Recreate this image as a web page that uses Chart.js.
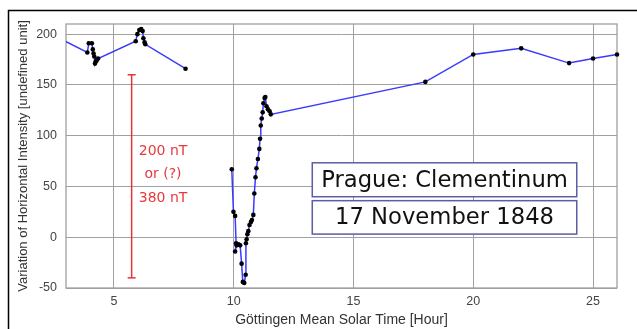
<!DOCTYPE html>
<html>
<head>
<meta charset="utf-8">
<script src="https://cdn.jsdelivr.net/npm/chart.js@4"></script>
<style>
  html, body { margin: 0; padding: 0; background: #fff; }
  #wrap { position: relative; width: 637px; height: 329px; }
</style>
</head>
<body>
<div id="wrap"><canvas id="chart" width="637" height="329"></canvas></div>
<script>
// Göttingen mean solar time [h] and variation of horizontal intensity
const hours = [
  2.8, 3.89, 3.95, 4.08, 4.12, 4.15, 4.18, 4.21, 4.24, 4.28, 4.34,
  5.91, 5.98, 6.06, 6.14, 6.2, 6.23, 6.28, 6.31, 7.99,
  9.0,
  9.92, 9.99, 10.06, 10.1, 10.06, 10.12, 10.2, 10.27, 10.33, 10.38, 10.44,
  10.5, 10.51, 10.54, 10.57, 10.61, 10.66, 10.72, 10.76, 10.82, 10.86,
  10.91, 10.95, 11.01, 11.07, 11.1, 11.13, 11.17, 11.21, 11.24, 11.29,
  11.32, 11.37, 11.43, 11.5, 11.55,
  18, 20, 22, 24, 25, 26
];
const intensity = [
  195, 182, 191, 191, 185, 181, 178, 171, 173, 174, 176,
  193, 200, 204, 205, 203, 196, 192, 190, 166,
  null,
  67, 25, 21, -6, -14, -8, -7, -8, -26, -44, -45,
  -37, -6, -2, 3, 6, 12, 15, 17, 22, 43,
  59, 68, 77, 87, 97, 110, 117, 123, 132, 137,
  138, 129, 126, 124, 121,
  153, 180, 186, 171.5, 176, 180
];

// scale bar (200 nT or 380 nT)
const barHours = [5.74, 5.74];
const barValues = [-40, 160];

const xTicks = [5, 10, 15, 20, 25];
const yTicks = [-50, 0, 50, 100, 150, 200];

const noteLines = ["200 nT", "or (?)", "380 nT"];
const titleLines = ["Prague: Clementinum", "17 November 1848"];

const tickFont = { family: "'Liberation Sans', Arial, sans-serif", size: 12.5 };
const xTitleFont = { family: "'Liberation Sans', Arial, sans-serif", size: 14 };
const yTitleFont = { family: "'Liberation Sans', Arial, sans-serif", size: 13 };

const framePlugin = {
  id: "frame",
  beforeDraw(chart) {
    const c = chart.ctx;
    c.save();
    c.strokeStyle = "#000";
    c.lineWidth = 1.5;
    c.beginPath();
    c.moveTo(8.5, 329);
    c.lineTo(8.5, 10.5);
    c.lineTo(637, 10.5);
    c.stroke();
    c.restore();
  },
  beforeDatasetsDraw(chart) {
    const a = chart.chartArea;
    const c = chart.ctx;
    c.save();
    c.strokeStyle = "#a0a0a0";
    c.lineWidth = 1.3;
    c.strokeRect(a.left, a.top, a.right - a.left, a.bottom - a.top);
    c.restore();
  }
};

const notesPlugin = {
  id: "notes",
  afterDatasetsDraw(chart) {
    const c = chart.ctx;
    const x = chart.scales.x, y = chart.scales.y;
    c.save();

    // red label next to the scale bar
    c.fillStyle = "#e8383c";
    c.font = "14px 'DejaVu Sans'";
    c.textAlign = "center";
    c.textBaseline = "middle";
    const nx = x.getPixelForValue(7.05);
    [85, 62, 38.6].forEach((v, i) => c.fillText(noteLines[i], nx, y.getPixelForValue(v)));

    // station / date boxes
    const left = x.getPixelForValue(13.28), right = x.getPixelForValue(24.32);
    const boxes = [[73.3, 39.9], [36, 3.1]];
    c.font = "22.7px 'DejaVu Sans'";
    boxes.forEach(([top, bot], i) => {
      const t = y.getPixelForValue(top), b = y.getPixelForValue(bot);
      c.fillStyle = "#fff";
      c.fillRect(left, t, right - left, b - t);
      c.strokeStyle = "#5c5ca8";
      c.lineWidth = 1.5;
      c.strokeRect(left, t, right - left, b - t);
      c.fillStyle = "#111";
      c.fillText(titleLines[i], (left + right) / 2, (t + b) / 2 + 1);
    });
    c.restore();
  }
};

new Chart(document.getElementById("chart"), {
  type: "line",
  data: {
    datasets: [
      {
        data: hours.map((h, i) => ({ x: h, y: intensity[i] })),
        borderColor: "#3a3aff",
        borderWidth: 1.5,
        pointRadius: 2.3,
        pointBackgroundColor: "#000",
        pointBorderWidth: 0,
        spanGaps: false,
        tension: 0,
        clip: { left: 0, right: 4, top: 4, bottom: 4 },
        order: 1
      },
      {
        data: barHours.map((h, i) => ({ x: h, y: barValues[i] })),
        borderColor: "#e63434",
        borderWidth: 1.5,
        pointStyle: "line",
        pointRadius: 4,
        pointBorderColor: "#e63434",
        pointBorderWidth: 1.5,
        order: 2
      }
    ]
  },
  options: {
    responsive: false,
    animation: false,
    layout: { padding: { left: 10, top: 24, right: 20, bottom: 0 } },
    plugins: { legend: { display: false }, tooltip: { enabled: false } },
    scales: {
      x: {
        type: "linear",
        min: 3,
        max: 26,
        afterBuildTicks: s => { s.ticks = xTicks.map(v => ({ value: v })); },
        afterFit: s => { s.height = 41; },
        grid: { color: "#a0a0a0", lineWidth: 1, drawTicks: false },
        border: { display: false },
        ticks: { color: "#444", font: tickFont, padding: 6 },
        title: {
          display: true,
          text: "Göttingen Mean Solar Time [Hour]",
          color: "#333",
          font: xTitleFont,
          padding: { top: 0, bottom: 0 }
        }
      },
      y: {
        min: -50,
        max: 210,
        afterBuildTicks: s => { s.ticks = yTicks.map(v => ({ value: v })); },
        afterFit: s => { s.width = 56; },
        grid: { color: "#a0a0a0", lineWidth: 1, drawTicks: false },
        border: { display: false },
        ticks: { color: "#444", font: tickFont, padding: 9 },
        title: {
          display: true,
          text: "Variation of Horizontal Intensity [undefined unit]",
          color: "#333",
          font: yTitleFont,
          padding: { top: 6, bottom: 0 }
        }
      }
    }
  },
  plugins: [framePlugin, notesPlugin]
});
</script>
</body>
</html>
